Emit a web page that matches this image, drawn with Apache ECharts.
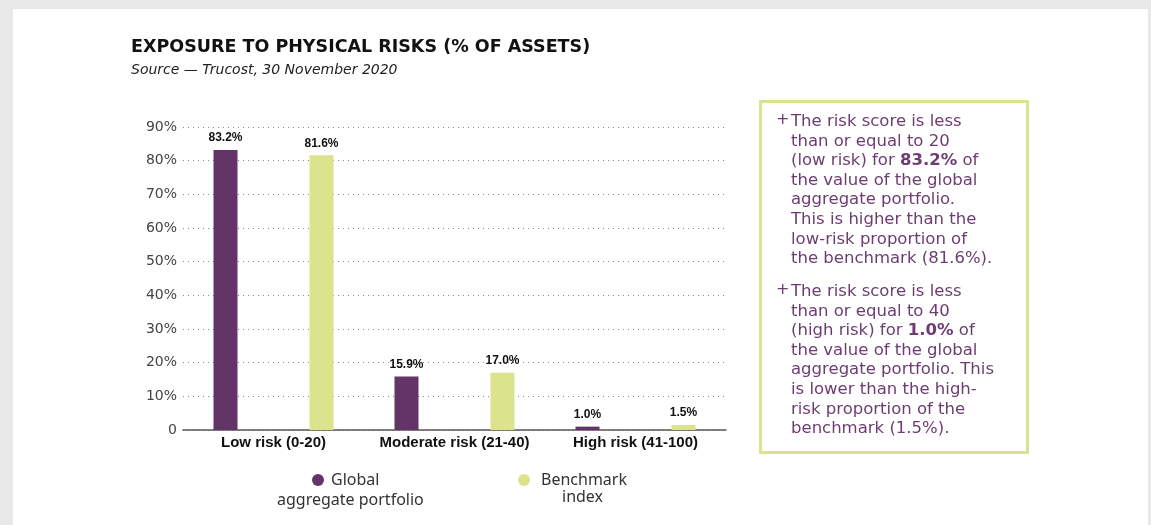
<!DOCTYPE html>
<html>
<head>
<meta charset="utf-8">
<title>Exposure to physical risks</title>
<script src="https://cdn.jsdelivr.net/npm/echarts@6/dist/echarts.min.js"></script>
<style>
  html, body { margin: 0; padding: 0; background: #e8e8e8; }
  #main { position: absolute; left: 13px; top: 9px; width: 1135px; height: 516px; background: #fff; }
</style>
</head>
<body>
<div id="main"></div>
<script type="text/javascript">
    // data
    var categories = ['Low risk (0-20)', 'Moderate risk (21-40)', 'High risk (41-100)'];
    var seriesNames = ['Global aggregate portfolio', 'Benchmark index'];
    var portfolioValues = [83.2, 15.9, 1.0];
    var benchmarkValues = [81.6, 17.0, 1.5];
    var legendLines = [['Global', 'aggregate portfolio'], ['Benchmark', 'index']];

    var noteLines1 = [
        'The risk score is less',
        'than or equal to 20',
        '(low risk) for {b|83.2%} of',
        'the value of the global',
        'aggregate portfolio.',
        'This is higher than the',
        'low-risk proportion of',
        'the benchmark (81.6%).'
    ];
    var noteLines2 = [
        'The risk score is less',
        'than or equal to 40',
        '(high risk) for {b|1.0%} of',
        'the value of the global',
        'aggregate portfolio. This',
        'is lower than the high-',
        'risk proportion of the',
        'benchmark (1.5%).'
    ];

    var purple = '#633468';
    var green = '#dbe38d';
    var noteColor = '#6d3c72';

    var myChart = echarts.init(document.getElementById('main'));

    var barLabel = {
        show: true,
        position: 'top',
        distance: 6,
        color: '#111',
        fontFamily: "'Liberation Sans Narrow', 'Liberation Sans', sans-serif",
        fontWeight: 'bold',
        fontSize: 12,
        formatter: function(p) { return p.value.toFixed(1) + '%'; }
    };

    function legendFor(i, left, top, gap) {
        return {
            data: [seriesNames[i]],
            left: left,
            top: top,
            padding: 0,
            icon: 'circle',
            itemWidth: 12,
            itemHeight: 12,
            selectedMode: false,
            formatter: function() { return legendLines[i][0]; },
            textStyle: { color: '#333', fontSize: 16, fontFamily: "'Noto Sans', sans-serif", padding: [0, 0, 0, gap] }
        };
    }

    var noteFont = "'DejaVu Sans', sans-serif";
    function noteText(lines, top) {
        return [
            { type: 'text', left: 763, top: top, style: { text: '+', fill: noteColor, font: '16px ' + noteFont } },
            {
                type: 'text', left: 778, top: top,
                style: {
                    text: lines.join('\n'),
                    fill: noteColor,
                    font: '16.5px ' + noteFont,
                    lineHeight: 19.6,
                    rich: {
                        b: { fontWeight: 'bold', fontSize: 16.5, fontFamily: noteFont, fill: noteColor, lineHeight: 19.6 }
                    }
                }
            }
        ];
    }

    var option = {
        backgroundColor: '#fff',
        animation: false,
        title: {
            text: 'EXPOSURE TO PHYSICAL RISKS (% OF ASSETS)',
            subtext: 'Source \u2014 Trucost, 30 November 2020',
            left: 113,
            top: 24,
            itemGap: 7,
            textStyle: { color: '#111', fontSize: 17.5, fontWeight: 'bold', fontFamily: "'DejaVu Sans', sans-serif" },
            subtextStyle: { color: '#222', fontSize: 14, fontStyle: 'italic', fontFamily: "'DejaVu Sans', sans-serif" }
        },
        legend: [legendFor(0, 299, 463, 2), legendFor(1, 505, 463, 6)],
        grid: { left: 170, right: 422, top: 118, bottom: 95, containLabel: false },
        xAxis: {
            type: 'category',
            data: categories,
            axisTick: { show: false },
            axisLine: { lineStyle: { color: '#555', width: 1.5 } },
            axisLabel: {
                interval: 0,
                color: '#111',
                fontWeight: 'bold',
                fontSize: 15,
                margin: 5,
                fontFamily: "'Liberation Sans', sans-serif"
            }
        },
        yAxis: {
            type: 'value',
            min: 0,
            max: 90,
            interval: 10,
            axisLine: { show: false },
            axisTick: { show: false },
            axisLabel: {
                color: '#444',
                fontSize: 14,
                margin: 6,
                fontFamily: "'DejaVu Sans', sans-serif",
                formatter: function(v) { return v === 0 ? '0' : v + '%'; }
            },
            splitLine: { lineStyle: { color: '#888', type: [1, 4], width: 1 } }
        },
        series: [
            {
                name: seriesNames[0],
                type: 'bar',
                data: portfolioValues,
                barWidth: 24,
                barGap: '300%',
                itemStyle: { color: purple },
                label: barLabel
            },
            {
                name: seriesNames[1],
                type: 'bar',
                data: benchmarkValues,
                barWidth: 24,
                itemStyle: { color: green },
                label: barLabel
            }
        ],
        graphic: [
            { type: 'text', left: 264, top: 483, style: { text: legendLines[0][1], fill: '#333', font: "16px 'Noto Sans', sans-serif" } },
            { type: 'text', left: 549, top: 480, style: { text: legendLines[1][1], fill: '#333', font: "16px 'Noto Sans', sans-serif" } },
            {
                type: 'rect', left: 745, top: 90,
                shape: { width: 267, height: 351 },
                style: { fill: 'none', stroke: green, lineWidth: 3 }
            }
        ].concat(noteText(noteLines1, 103)).concat(noteText(noteLines2, 273))
    };

    myChart.setOption(option);
</script>
</body>
</html>
